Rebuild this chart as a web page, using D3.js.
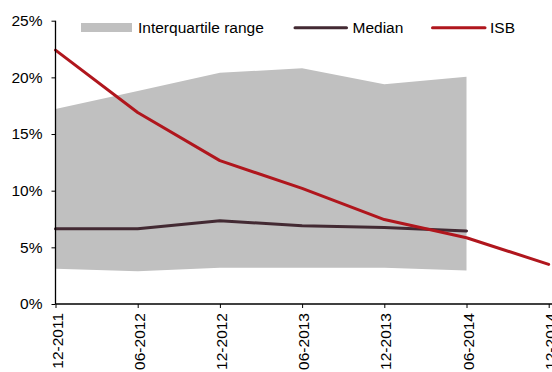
<!DOCTYPE html>
<html>
<head>
<meta charset="utf-8">
<script src="https://cdn.jsdelivr.net/npm/d3@7"></script>
<style>
  html, body { margin: 0; padding: 0; background: #fff; }
  svg { display: block; font-family: "Liberation Sans", Arial, sans-serif; }
</style>
</head>
<body>
<svg id="chart" width="552" height="372"></svg>
<script>
// Half-yearly periods
const periods = ["12-2011", "06-2012", "12-2012", "06-2013", "12-2013", "06-2014", "12-2014"];
// Interquartile range bounds (%), available up to 06-2014
const iqrLow  = [3.1, 2.9, 3.2, 3.2, 3.2, 2.95];
const iqrHigh = [17.2, 18.8, 20.4, 20.8, 19.4, 20.05];
// Median (%), available up to 06-2014
const median = [6.65, 6.65, 7.35, 6.9, 6.75, 6.45];
// ISB (%)
const isb = [22.4, 16.9, 12.65, 10.2, 7.45, 5.85, 3.5];
// Y axis ticks (%)
const yTicks = [0, 5, 10, 15, 20, 25];

const FONT = "Liberation Sans, Arial, sans-serif";
const FONT_SIZE = 15.5;

const svg = d3.select("#chart");

const x = d3.scalePoint().domain(periods).range([55.5, 548.7]);
const y = d3.scaleLinear().domain([0, 25]).range([304, 20.7]);

// Interquartile band
const iqrData = periods.slice(0, iqrLow.length).map((p, i) => ({ p, lo: iqrLow[i], hi: iqrHigh[i] }));
svg.append("path")
  .datum(iqrData)
  .attr("fill", "#c0c0c0")
  .attr("d", d3.area().x(d => x(d.p)).y0(d => y(d.lo)).y1(d => y(d.hi)));

const line = d3.line().x(d => x(d.p)).y(d => y(d.v));

// Median line
svg.append("path")
  .datum(median.map((v, i) => ({ p: periods[i], v })))
  .attr("fill", "none")
  .attr("stroke", "#432a33")
  .attr("stroke-width", 3)
  .attr("stroke-linejoin", "round")
  .attr("stroke-linecap", "round")
  .attr("d", line);

// ISB line
svg.append("path")
  .datum(isb.map((v, i) => ({ p: periods[i], v })))
  .attr("fill", "none")
  .attr("stroke", "#b0161d")
  .attr("stroke-width", 3)
  .attr("stroke-linejoin", "round")
  .attr("stroke-linecap", "round")
  .attr("d", line);

// Y axis
const yAxis = svg.append("g")
  .attr("transform", "translate(55.5,0)")
  .call(d3.axisLeft(y).tickValues(yTicks).tickFormat(d => d + "%").tickSize(4).tickPadding(9));
yAxis.select(".domain").attr("d", `M0,${y(25)}V${y(0)}`).attr("stroke", "#000").attr("stroke-width", 1.3);
yAxis.selectAll(".tick line").attr("stroke", "#000");
yAxis.selectAll(".tick text").attr("font-size", FONT_SIZE).attr("fill", "#000").attr("font-family", FONT);

// X axis
const xAxis = svg.append("g")
  .attr("transform", `translate(0,${y(0)})`)
  .call(d3.axisBottom(x).tickSize(4).tickSizeOuter(0));
xAxis.select(".domain").attr("d", `M55.5,0H552`).attr("stroke", "#000").attr("stroke-width", 1.3);
xAxis.selectAll(".tick line").attr("stroke", "#000");
xAxis.selectAll(".tick text")
  .attr("font-size", FONT_SIZE)
  .attr("fill", "#000")
  .attr("font-family", FONT)
  .attr("transform", "rotate(-90)")
  .attr("text-anchor", "end")
  .attr("dy", "0.42em")
  .attr("x", -9)
  .attr("y", 0);

// Legend
const legend = svg.append("g").attr("font-size", FONT_SIZE).attr("font-family", FONT).attr("fill", "#000");
legend.append("rect").attr("x", 81).attr("y", 23).attr("width", 51).attr("height", 9).attr("fill", "#c0c0c0");
legend.append("text").attr("x", 138).attr("y", 33).text("Interquartile range");
legend.append("line").attr("x1", 295).attr("x2", 346.5).attr("y1", 27.7).attr("y2", 27.7)
  .attr("stroke", "#432a33").attr("stroke-width", 3).attr("stroke-linecap", "round");
legend.append("text").attr("x", 352.5).attr("y", 33).text("Median");
legend.append("line").attr("x1", 432.5).attr("x2", 485).attr("y1", 27.7).attr("y2", 27.7)
  .attr("stroke", "#b0161d").attr("stroke-width", 3).attr("stroke-linecap", "round");
legend.append("text").attr("x", 490).attr("y", 33).text("ISB");
</script>
</body>
</html>
